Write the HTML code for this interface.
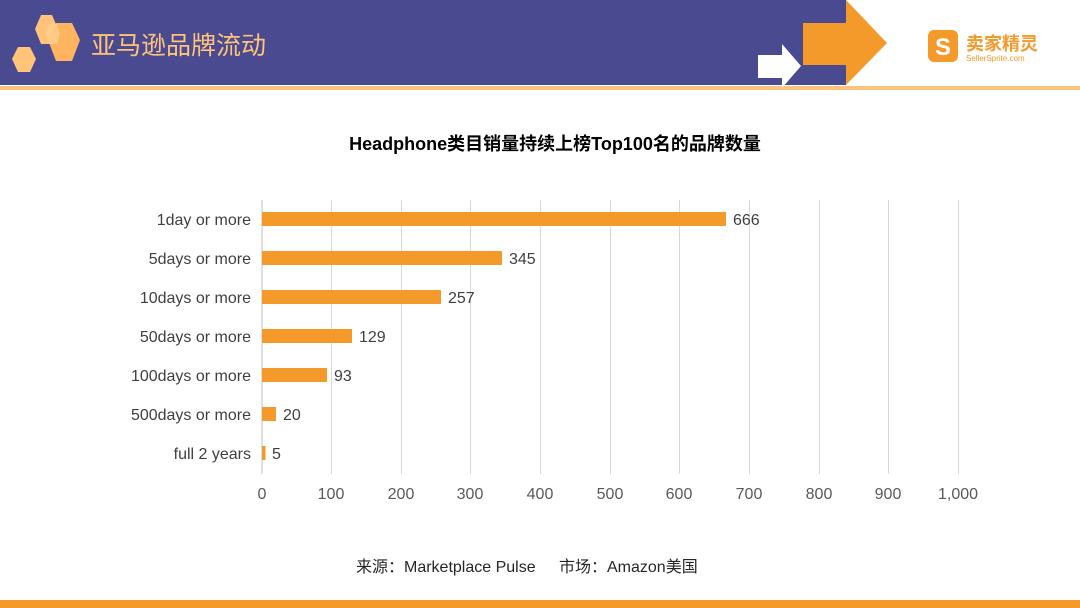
<!DOCTYPE html>
<html><head><meta charset="utf-8"><style>
body{margin:0;width:1080px;height:608px;background:#fff;overflow:hidden;position:relative;font-family:"Liberation Sans","Noto Sans CJK SC",sans-serif}
</style></head><body>
<svg width="1080" height="608" style="position:absolute;left:0;top:0" font-family="Liberation Sans, Noto Sans CJK SC, sans-serif">
<rect x="0" y="0" width="846" height="85" fill="#4a4a91"/>
<rect x="0" y="86" width="1080" height="4" fill="#ffc37a"/>
<rect x="0" y="600" width="1080" height="8" fill="#f39a2a"/>
<polygon points="758,55 782,55 782,44 801,66 782,88 782,78 758,78" fill="#fff"/>
<polygon points="803,23 846,23 846,0 887,43 846,85 846,65 803,65" fill="#f39a2a"/>
<polygon points="41,15 52,15 58,29 52,44 41,44 35,29" fill="#ffc37a"/>
<polygon points="56,23 72,23 80,40 72,61 56,61 48,40" fill="#ffb560"/>
<polygon points="49,24 57,24 60,34 57,44 49,44 46,34" fill="#ffcf8f" opacity="0.8"/>
<polygon points="18,47 30,47 36,59 30,72 18,72 12,59" fill="#ffc37a"/>
<text x="91" y="54" font-size="25" fill="#ffc37a">亚马逊品牌流动</text>
<rect x="928" y="30" width="30" height="32" rx="6" fill="#f39a2a"/>
<text x="943" y="55" font-size="24" font-weight="bold" fill="#fff" text-anchor="middle">S</text>
<text x="966" y="50" font-size="18" font-weight="bold" fill="#f39a2a">卖家精灵</text>
<text x="966" y="61" font-size="8" fill="#f39a2a">SellerSprite.com</text>
<text x="555" y="150" font-size="18" font-weight="bold" fill="#000" text-anchor="middle">Headphone类目销量持续上榜Top100名的品牌数量</text>
<g stroke="#d9d9d9" stroke-width="1">
<line x1="331.5" y1="200" x2="331.5" y2="474"/><line x1="401.5" y1="200" x2="401.5" y2="474"/>
<line x1="470.5" y1="200" x2="470.5" y2="474"/><line x1="540.5" y1="200" x2="540.5" y2="474"/>
<line x1="610.5" y1="200" x2="610.5" y2="474"/><line x1="679.5" y1="200" x2="679.5" y2="474"/>
<line x1="749.5" y1="200" x2="749.5" y2="474"/><line x1="819.5" y1="200" x2="819.5" y2="474"/>
<line x1="888.5" y1="200" x2="888.5" y2="474"/><line x1="958.5" y1="200" x2="958.5" y2="474"/>
</g>
<line x1="262" y1="200" x2="262" y2="474" stroke="#bfbfbf"/>
<g fill="#f39a2a">
<rect x="262" y="212" width="464" height="14"/>
<rect x="262" y="251" width="240" height="14"/>
<rect x="262" y="290" width="179" height="14"/>
<rect x="262" y="329" width="90" height="14"/>
<rect x="262" y="368" width="65" height="14"/>
<rect x="262" y="407" width="14" height="14"/>
<rect x="262" y="446" width="3.5" height="14"/>
</g>
<g font-size="16" fill="#404040">
<g text-anchor="end">
<text x="251" y="225">1day or more</text>
<text x="251" y="264">5days or more</text>
<text x="251" y="303">10days or more</text>
<text x="251" y="342">50days or more</text>
<text x="251" y="381">100days or more</text>
<text x="251" y="420">500days or more</text>
<text x="251" y="459">full 2 years</text>
</g>
<text x="733" y="225">666</text>
<text x="509" y="264">345</text>
<text x="448" y="303">257</text>
<text x="359" y="342">129</text>
<text x="334" y="381">93</text>
<text x="283" y="420">20</text>
<text x="272" y="459">5</text>
<g text-anchor="middle" fill="#595959">
<text x="262" y="499">0</text><text x="331" y="499">100</text><text x="401" y="499">200</text>
<text x="470" y="499">300</text><text x="540" y="499">400</text><text x="610" y="499">500</text>
<text x="679" y="499">600</text><text x="749" y="499">700</text><text x="819" y="499">800</text>
<text x="888" y="499">900</text><text x="958" y="499">1,000</text>
</g>
</g>
<text x="356" y="572" font-size="16" fill="#262626">来源：Marketplace Pulse</text>
<text x="559" y="572" font-size="16" fill="#262626">市场：Amazon美国</text>
</svg>
</body></html>
